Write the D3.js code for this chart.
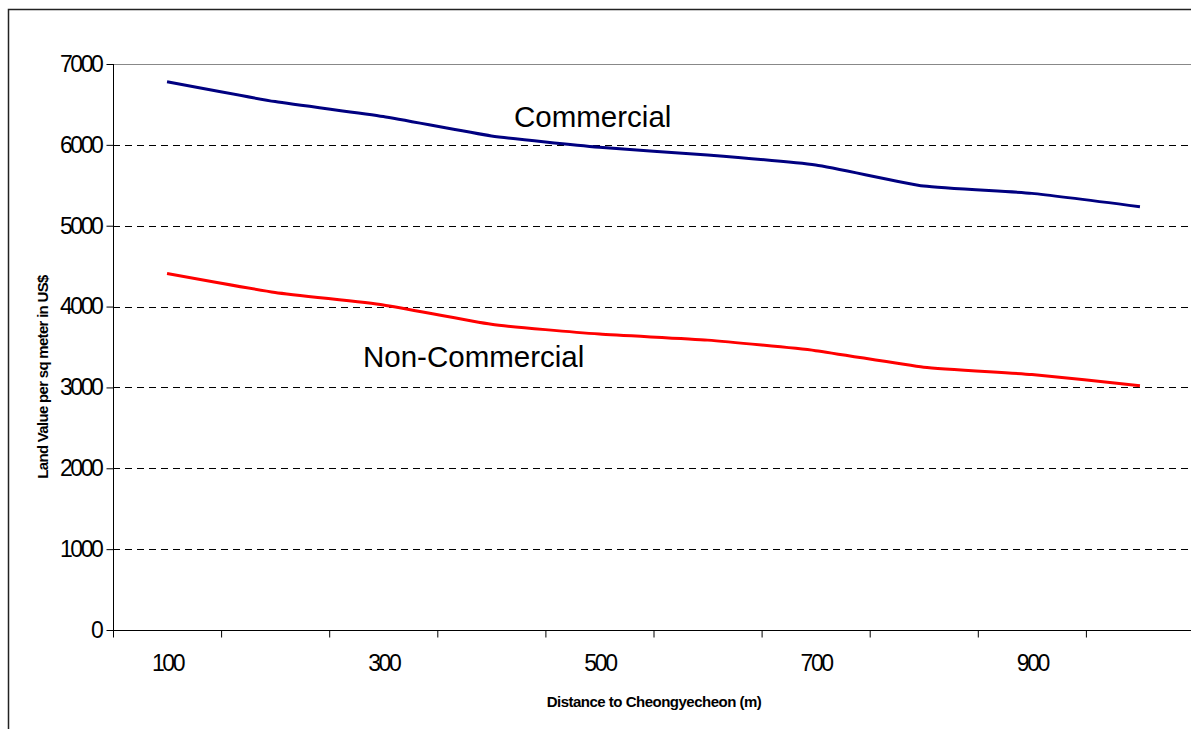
<!DOCTYPE html>
<html>
<head>
<meta charset="utf-8">
<script src="https://cdn.jsdelivr.net/npm/d3@7"></script>
<style>
  body { margin: 0; background: #fff; }
  text { font-family: Arial, "Liberation Sans", sans-serif; }
</style>
</head>
<body>
<div id="chart"></div>
<script>
var width = 1191
var height = 729

// data
var distances = [100, 200, 300, 400, 500, 600, 700, 800, 900, 1000]
var commercial = [6780, 6535, 6350, 6110, 5970, 5875, 5750, 5490, 5400, 5235]
var nonCommercial = [4410, 4175, 4020, 3780, 3660, 3585, 3455, 3250, 3160, 3020]
var yTicks = [0, 1000, 2000, 3000, 4000, 5000, 6000, 7000]
var xLabels = [100, 300, 500, 700, 900]

var plotLeft = 113, plotRight = 1194, plotTop = 64, plotBottom = 630

var svg = d3.select("#chart").append("svg")
    .attr("width", width)
    .attr("height", height);

// outer chart border
svg.append("rect")
    .attr("x", 8.5).attr("y", 9.5)
    .attr("width", width + 20).attr("height", height + 20)
    .attr("fill", "none")
    .attr("stroke", "#222")
    .attr("stroke-width", 1.5);

var x = d3.scalePoint()
    .domain(distances)
    .range([plotLeft, plotRight])
    .padding(0.5);

var xEdge = d3.scaleLinear()
    .domain([0, distances.length])
    .range([plotLeft, plotRight]);

var y = d3.scaleLinear()
    .domain([0, 7000])
    .range([plotBottom, plotTop]);

// plot area top border
svg.append("line")
    .attr("x1", plotLeft).attr("x2", plotRight)
    .attr("y1", y(7000) + 0.5).attr("y2", y(7000) + 0.5)
    .attr("stroke", "#888")
    .attr("stroke-width", 1);

// dashed gridlines
svg.selectAll(".grid")
    .data(yTicks.filter(function(d) { return d > 0 && d < 7000; }))
    .enter().append("line")
    .attr("class", "grid")
    .attr("x1", plotLeft).attr("x2", plotRight)
    .attr("y1", function(d) { return Math.round(y(d)) + 0.5; })
    .attr("y2", function(d) { return Math.round(y(d)) + 0.5; })
    .attr("stroke", "#000")
    .attr("stroke-width", 1)
    .attr("stroke-dasharray", "7,5");

// y axis
var yAxis = svg.append("g")
    .attr("transform", "translate(" + (plotLeft + 0.5) + ",0)")
    .call(d3.axisLeft(y).tickValues(yTicks).tickSize(7).tickPadding(5).tickFormat(d3.format("d")));
yAxis.select(".domain").attr("stroke", "#000").attr("d", "M0," + plotTop + "V" + plotBottom);
yAxis.selectAll(".tick line").attr("stroke", "#000");
yAxis.selectAll("text")
    .attr("font-size", "23px")
    .attr("letter-spacing", "-2.4px")
    .attr("font-family", "Arial, 'Liberation Sans', sans-serif")
    .attr("fill", "#000");

// x axis: tick marks between categories
var xAxis = svg.append("g")
    .attr("transform", "translate(0," + (plotBottom + 0.5) + ")")
    .call(d3.axisBottom(xEdge).tickValues(d3.range(0, distances.length + 1)).tickSize(7).tickFormat(""));
xAxis.select(".domain").attr("stroke", "#000").attr("d", "M" + plotLeft + ",0H" + plotRight);
xAxis.selectAll(".tick line").attr("stroke", "#000");

// x labels at category centres, every other one
var xLab = svg.append("g")
    .attr("transform", "translate(0," + (plotBottom + 0.5) + ")")
    .call(d3.axisBottom(x).tickValues(xLabels).tickSize(0).tickPadding(24));
xLab.select(".domain").remove();
xLab.selectAll("text")
    .attr("font-size", "23px")
    .attr("letter-spacing", "-2.4px")
    .attr("font-family", "Arial, 'Liberation Sans', sans-serif")
    .attr("fill", "#000");

// lines
var line = d3.line()
    .x(function(d, i) { return x(distances[i]); })
    .y(function(d) { return y(d); })
    .curve(d3.curveCardinal.tension(0.5));

svg.append("path")
    .datum(commercial)
    .attr("d", line)
    .attr("fill", "none")
    .attr("stroke", "#000080")
    .attr("stroke-width", 3);

svg.append("path")
    .datum(nonCommercial)
    .attr("d", line)
    .attr("fill", "none")
    .attr("stroke", "#ff0000")
    .attr("stroke-width", 3);

// series labels
svg.append("text")
    .text("Commercial")
    .attr("x", 514)
    .attr("y", 127)
    .attr("font-size", "29.5px")
    .attr("fill", "#000");

svg.append("text")
    .text("Non-Commercial")
    .attr("x", 363)
    .attr("y", 367)
    .attr("font-size", "29.5px")
    .attr("fill", "#000");

// axis titles
svg.append("text")
    .text("Distance to Cheongyecheon (m)")
    .attr("x", 654)
    .attr("y", 707)
    .attr("text-anchor", "middle")
    .attr("font-size", "15px")
    .attr("font-weight", "bold")
    .attr("letter-spacing", "-0.5px")
    .attr("fill", "#000");

svg.append("text")
    .text("Land Value per sq meter in US$")
    .attr("transform", "translate(48,377) rotate(-90)")
    .attr("text-anchor", "middle")
    .attr("font-size", "15px")
    .attr("font-weight", "bold")
    .attr("letter-spacing", "-0.7px")
    .attr("fill", "#000");
</script>
</body>
</html>
